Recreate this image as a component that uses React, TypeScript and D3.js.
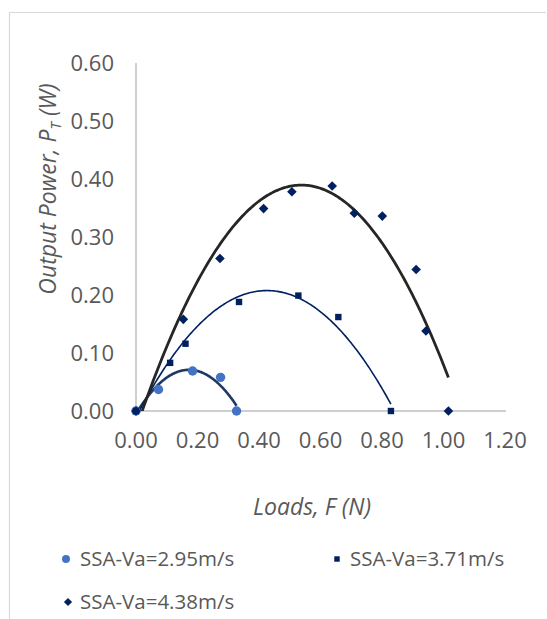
import React from "react";
import * as d3 from "d3";

const s1X = [0, 0.073, 0.184, 0.275, 0.327];
const s1Y = [0, 0.037, 0.069, 0.058, 0.0];
const s2X = [0, 0.111, 0.161, 0.335, 0.528, 0.658, 0.829];
const s2Y = [0, 0.083, 0.116, 0.188, 0.199, 0.162, 0.0];
const s3X = [0, 0.154, 0.273, 0.415, 0.507, 0.638, 0.71, 0.801, 0.911, 0.943, 1.016];
const s3Y = [0, 0.158, 0.263, 0.349, 0.378, 0.388, 0.341, 0.336, 0.244, 0.138, 0.0];
const xTicks = [0, 0.2, 0.4, 0.6, 0.8, 1.0, 1.2];
const yTicks = [0, 0.1, 0.2, 0.3, 0.4, 0.5, 0.6];
const seriesNames = ["SSA-Va=2.95m/s", "SSA-Va=3.71m/s", "SSA-Va=4.38m/s"];
const trendOrder = [2, 2, 2];

function polyfit(xs: number[], ys: number[], order: number): number[] {
  const n = order + 1;
  const A: number[][] = [];
  for (let i = 0; i < n; i++) {
    const row: number[] = [];
    for (let j = 0; j < n; j++) row.push(d3.sum(xs, (x) => Math.pow(x, i + j)));
    row.push(d3.sum(xs, (x, k) => Math.pow(x, i) * ys[k]));
    A.push(row);
  }
  for (let c = 0; c < n; c++) {
    let p = c;
    for (let r = c + 1; r < n; r++) if (Math.abs(A[r][c]) > Math.abs(A[p][c])) p = r;
    [A[c], A[p]] = [A[p], A[c]];
    for (let r = 0; r < n; r++) {
      if (r === c) continue;
      const f = A[r][c] / A[c][c];
      for (let k = c; k <= n; k++) A[r][k] -= f * A[c][k];
    }
  }
  return A.map((row, i) => row[n] / row[i]);
}

const W = 547, H = 619;
const left = 136, right = 506, top = 63, bottom = 411;
const FONT = "'Open Sans', sans-serif";
const TXT = "#595959";

export default function App() {
  const x = d3.scaleLinear().domain([0, 1.2]).range([left, left + 369]);
  const y = d3.scaleLinear().domain([0, 0.6]).range([bottom, top]);

  const series = [
    { xs: s1X, ys: s1Y, color: "#4472C4", line: "#1F3864", lw: 2.6, marker: "circle" },
    { xs: s2X, ys: s2Y, color: "#002060", line: "#002060", lw: 1.6, marker: "square" },
    { xs: s3X, ys: s3Y, color: "#002060", line: "#262626", lw: 2.8, marker: "diamond" },
  ];

  const trend = (s: any, order: number) => {
    const c = polyfit(s.xs, s.ys, order);
    const x0 = d3.min(s.xs) as number, x1 = d3.max(s.xs) as number;
    const pts: [number, number][] = d3.range(0, 201).map((i) => {
      const xv = x0 + ((x1 - x0) * i) / 200;
      const yv = c.reduce((a, ci, k) => a + ci * Math.pow(xv, k), 0);
      return [x(xv), y(yv)];
    });
    return d3.line()(pts) as string;
  };

  const marker = (type: string, cx: number, cy: number, color: string, key: any, sc = 1) => {
    if (type === "circle") return <circle key={key} cx={cx} cy={cy} r={4.7 * sc} fill={color} />;
    if (type === "square") {
      const h = 3.2 * sc;
      return <rect key={key} x={cx - h} y={cy - h} width={2 * h} height={2 * h} fill={color} />;
    }
    const h = 4.8 * sc;
    return <path key={key} d={`M${cx},${cy - h}L${cx + h},${cy}L${cx},${cy + h}L${cx - h},${cy}Z`} fill={color} />;
  };

  return (
    <svg width={W} height={H} style={{ position: "absolute", left: 0, top: 0, background: "#fff" }}>
      <defs>
        <clipPath id="plot">
          <rect x={left} y={top} width={right - left} height={bottom - top} />
        </clipPath>
      </defs>
      <rect x={0} y={0} width={W} height={H} fill="#fff" />
      <line x1={9.5} y1={12} x2={9.5} y2={H} stroke="#D9D9D9" strokeWidth={1.2} />
      <line x1={9} y1={12.5} x2={546} y2={12.5} stroke="#D9D9D9" strokeWidth={1.2} />

      <line x1={left} y1={top} x2={left} y2={bottom} stroke="#BFBFBF" strokeWidth={1.5} />
      <line x1={left} y1={bottom} x2={right} y2={bottom} stroke="#BFBFBF" strokeWidth={1.5} />

      {yTicks.map((t) => (
        <text key={"y" + t} x={left - 22} y={y(t)} dy="0.35em" textAnchor="end" fontFamily={FONT} fontSize={22} fill={TXT}>
          {t.toFixed(2)}
        </text>
      ))}
      {xTicks.map((t) => (
        <text key={"x" + t} x={x(t)} y={bottom + 29} dy="0.35em" textAnchor="middle" fontFamily={FONT} fontSize={22} fill={TXT}>
          {t.toFixed(2)}
        </text>
      ))}

      <text transform={`translate(48,189) rotate(-90)`} dy="0.35em" textAnchor="middle" fontFamily={FONT} fontSize={23} fontStyle="italic" fill={TXT}>
        Output Power, P<tspan fontSize={15} dy="5">T</tspan>
        <tspan dy="-5"> (W)</tspan>
      </text>
      <text x={312} y={507} dy="0.35em" textAnchor="middle" fontFamily={FONT} fontSize={23} fontStyle="italic" fill={TXT}>
        Loads, F (N)
      </text>

      <g clipPath="url(#plot)">
        {series.map((s, i) => (
          <path key={"t" + i} d={trend(s, trendOrder[i])} fill="none" stroke={s.line} strokeWidth={s.lw} />
        ))}
      </g>
      {series.map((s, i) => (
        <g key={"m" + i}>{s.xs.map((xv, j) => marker(s.marker, x(xv), y(s.ys[j]), s.color, j))}</g>
      ))}

      {marker("circle", 66, 559, "#4472C4", "l1", 0.85)}
      <text x={80} y={559} dy="0.35em" fontFamily={FONT} fontSize={20.5} fill={TXT}>{seriesNames[0]}</text>
      {marker("square", 337, 559, "#002060", "l2", 0.85)}
      <text x={350} y={559} dy="0.35em" fontFamily={FONT} fontSize={20.5} fill={TXT}>{seriesNames[1]}</text>
      {marker("diamond", 68, 602, "#002060", "l3", 0.85)}
      <text x={80} y={602} dy="0.35em" fontFamily={FONT} fontSize={20.5} fill={TXT}>{seriesNames[2]}</text>
    </svg>
  );
}
